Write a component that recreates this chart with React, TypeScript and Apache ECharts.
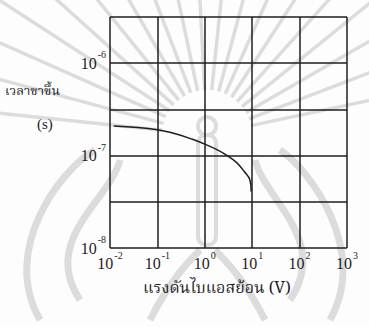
import React, { useEffect, useRef } from "react";
import * as echarts from "echarts";

// Reverse bias voltage (V) and rise time (s) along the curve
const voltage = [0.012, 0.1, 0.25, 0.53, 1.0, 1.8, 2.7, 4.7, 7.0, 8.9, 9.5];
const riseTime = [2.09e-7, 1.91e-7, 1.71e-7, 1.51e-7, 1.33e-7, 1.16e-7, 1.03e-7, 8.4e-8, 6.6e-8, 5.5e-8, 4.1e-8];

// Decade exponents used for the log-scaled axes
const xExponents = [-2, -1, 0, 1, 2, 3];
const yExponents = [-8, -7, -6];

const yTitle = "เวลาขาขึ้น";
const yUnit = "(s)";
const xTitle = "แรงดันไบแอสย้อน (V)";

const SERIF = "'Liberation Serif', 'DejaVu Serif', 'Times New Roman', serif";
const THAI = "'Noto Serif Thai', 'Noto Sans Thai', 'Norasi', 'Loma', 'Garuda', 'Liberation Serif', serif";
const INK = "#1e1e1e";
const HAZE = "#dcdcdc";

// Faint radiating emblem behind the plot
function emblem() {
  const cx = 207;
  const cy = 135;
  const items: any[] = [];
  for (let a = 186; a <= 354; a += 9) {
    const r = (a * Math.PI) / 180;
    items.push({
      type: "line",
      silent: true,
      shape: {
        x1: cx + Math.cos(r) * 45,
        y1: cy + Math.sin(r) * 45,
        x2: cx + Math.cos(r) * 260,
        y2: cy + Math.sin(r) * 260,
      },
      style: { stroke: HAZE, lineWidth: 3.5 },
    });
  }
  const curves = [
    [40, 320, 0, 250, 60, 170, 95, 150],
    [80, 300, 40, 240, 110, 200, 120, 160],
    [330, 320, 369, 250, 310, 170, 280, 150],
    [290, 300, 330, 240, 265, 200, 255, 160],
    [150, 320, 170, 280, 190, 260, 200, 250],
    [265, 320, 245, 280, 225, 260, 215, 250],
  ];
  curves.forEach(([x1, y1, cpx1, cpy1, cpx2, cpy2, x2, y2]) => {
    items.push({
      type: "bezierCurve",
      silent: true,
      shape: { x1, y1, cpx1, cpy1, cpx2, cpy2, x2, y2 },
      style: { stroke: HAZE, lineWidth: 7, fill: "none" },
    });
  });
  items.push({
    type: "rect",
    silent: true,
    shape: { x: 198, y: 135, width: 18, height: 110, r: 8 },
    style: { fill: "none", stroke: HAZE, lineWidth: 4 },
  });
  items.push({
    type: "circle",
    silent: true,
    shape: { cx: 207, cy: 126, r: 9 },
    style: { fill: "none", stroke: HAZE, lineWidth: 4 },
  });
  return { type: "group", z: 1, silent: true, children: items };
}

const labelRich = {
  b: { fontFamily: SERIF, fontSize: 16, color: INK },
  s: { fontFamily: SERIF, fontSize: 10, color: INK, padding: [0, 0, 17, 1] },
};

export default function App() {
  const ref = useRef<HTMLDivElement>(null);

  useEffect(() => {
    if (!ref.current) return;
    const chart = echarts.init(ref.current, undefined, { renderer: "svg" });

    const points = voltage.map((v, i) => [Math.log10(v), Math.log10(riseTime[i])]);
    const label = (v: number) => `{b|10}{s|${v}}`;

    chart.setOption({
      animation: false,
      backgroundColor: "#fdfdfd",
      grid: { left: 110, right: 22, top: 17, bottom: 79 },
      xAxis: {
        type: "value",
        z: 5,
        min: xExponents[0],
        max: xExponents[xExponents.length - 1],
        interval: 1,
        axisLine: { show: false },
        axisTick: { show: false },
        splitLine: { show: true, lineStyle: { color: INK, width: 1.5 } },
        axisLabel: {
          margin: 2,
          formatter: (v: number) => (xExponents.includes(v) ? label(v) : ""),
          rich: labelRich,
        },
      },
      yAxis: {
        type: "value",
        z: 5,
        min: -8,
        max: -5.5,
        interval: 0.5,
        axisLine: { show: false },
        axisTick: { show: false },
        splitLine: { show: true, lineStyle: { color: INK, width: 1.5 } },
        axisLabel: {
          margin: 4,
          formatter: (v: number) => (yExponents.includes(v) ? label(v) : ""),
          rich: labelRich,
        },
      },
      graphic: [
        emblem(),
        { type: "text", z: 10, left: 5, top: 85, style: { text: yTitle, font: `13px ${THAI}`, fill: INK } },
        { type: "text", z: 10, left: 37, top: 116, style: { text: yUnit, font: `15px ${SERIF}`, fill: INK } },
        { type: "text", z: 10, left: 143, top: 281, style: { text: xTitle, font: `16px ${THAI}`, fill: INK } },
      ],
      series: [
        {
          type: "line",
          z: 6,
          data: points,
          smooth: 0.4,
          showSymbol: false,
          lineStyle: { color: INK, width: 1.5 },
        },
      ],
    });

    return () => chart.dispose();
  }, []);

  return (
    <div ref={ref} style={{ position: "fixed", left: 0, top: 0, width: 369, height: 327 }} />
  );
}
